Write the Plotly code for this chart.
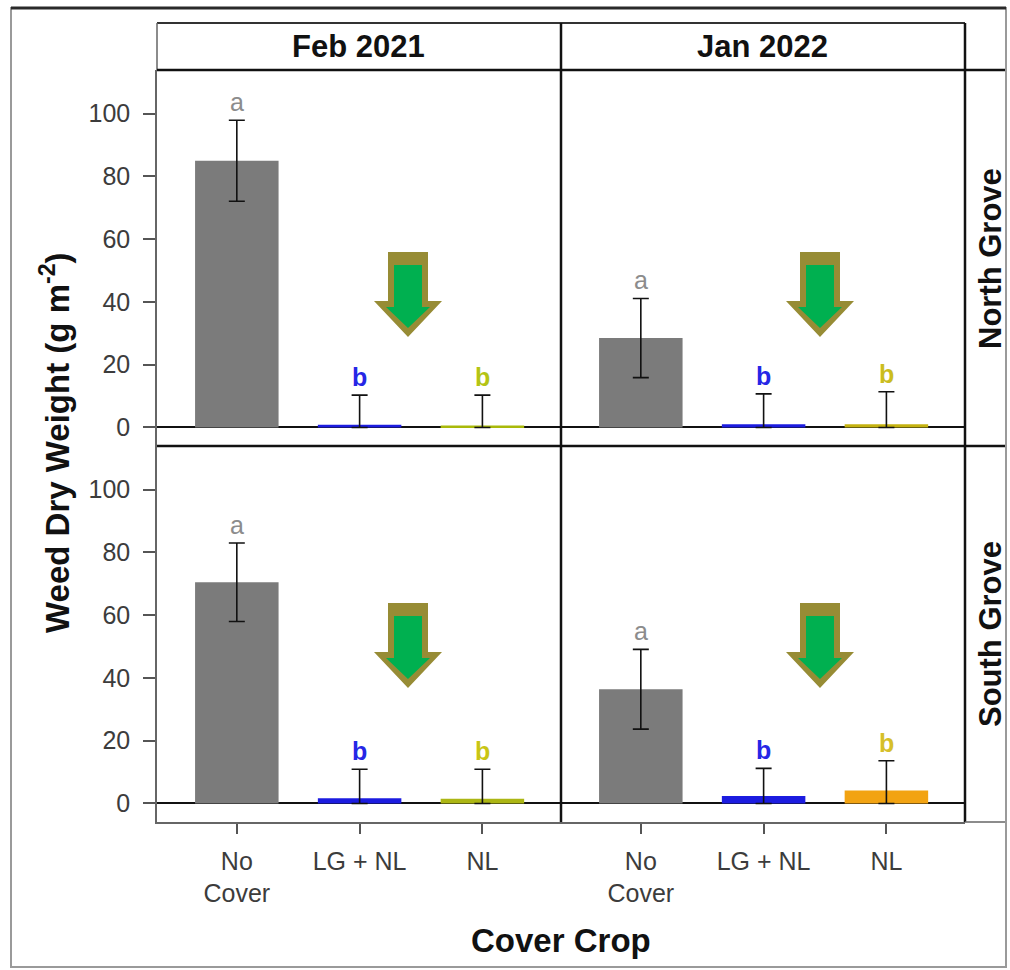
import plotly.graph_objects as go

# ---- data -----------------------------------------------------------------
categories = ["No Cover", "LG + NL", "NL"]
tick_text = ["No<br>Cover", "LG + NL", "NL"]
dates = ["Feb 2021", "Jan 2022"]
groves = ["North Grove", "South Grove"]
y_ticks = [0, 20, 40, 60, 80, 100]

north_feb_mean = [85.0, 0.9, 0.6]
north_feb_se = [12.9, 9.4, 9.7]
north_jan_mean = [28.5, 1.0, 1.0]
north_jan_se = [12.6, 9.7, 10.4]
south_feb_mean = [70.5, 1.7, 1.5]
south_feb_se = [12.5, 9.2, 9.4]
south_jan_mean = [36.4, 2.4, 4.1]
south_jan_se = [12.7, 8.8, 9.5]

north_feb_letters = ["a", "b", "b"]
north_jan_letters = ["a", "b", "b"]
south_feb_letters = ["a", "b", "b"]
south_jan_letters = ["a", "b", "b"]

# ---- styling --------------------------------------------------------------
FONT = "Liberation Sans, Arial, Helvetica, sans-serif"
GRAY_BAR = "#7b7b7b"
BLUE = "#1c1ce0"
north_feb_colors = [GRAY_BAR, BLUE, "#a9b90a"]
north_jan_colors = [GRAY_BAR, BLUE, "#c4b210"]
south_feb_colors = [GRAY_BAR, BLUE, "#acb614"]
south_jan_colors = [GRAY_BAR, BLUE, "#f2a312"]
north_feb_letter_colors = ["#8c8c8c", "#2626e6", "#b4c414"]
north_jan_letter_colors = ["#8c8c8c", "#2626e6", "#cbbd1e"]
south_feb_letter_colors = ["#8c8c8c", "#2626e6", "#c9c514"]
south_jan_letter_colors = ["#8c8c8c", "#2626e6", "#d6bf2a"]

W, H = 1010, 970
L, R, T, B = 157, 965, 70, 822          # plot area in pixels
Y_RANGE = [-5.9, 113.9]
X_RANGE = [-0.65, 2.64]


def px(xp):
    return (xp - L) / (R - L)


def py(yp):
    return (B - yp) / (B - T)


panels = [
    # (row, col, means, se, colors, letters, letter colors)
    (1, 1, north_feb_mean, north_feb_se, north_feb_colors, north_feb_letters, north_feb_letter_colors),
    (1, 2, north_jan_mean, north_jan_se, north_jan_colors, north_jan_letters, north_jan_letter_colors),
    (2, 1, south_feb_mean, south_feb_se, south_feb_colors, south_feb_letters, south_feb_letter_colors),
    (2, 2, south_jan_mean, south_jan_se, south_jan_colors, south_jan_letters, south_jan_letter_colors),
]

fig = go.Figure()
annotations = []
x_domains = {1: [0.0, 0.5], 2: [0.5, 1.0]}
y_domains = {1: [0.5, 1.0], 2: [0.0, 0.5]}

for i, (row, col, means, se, colors, letters, lcolors) in enumerate(panels, start=1):
    suffix = "" if i == 1 else str(i)
    xname, yname = "x" + suffix, "y" + suffix
    lower = [min(s, m) for s, m in zip(se, means)]
    fig.add_trace(go.Bar(
        x=list(range(len(categories))), y=means,
        width=0.68,
        marker=dict(color=colors, line=dict(width=0)),
        error_y=dict(type="data", symmetric=False, array=se, arrayminus=lower,
                     color="#111111", thickness=1.6, width=8),
        xaxis=xname, yaxis=yname, showlegend=False,
        hovertext=categories,
    ))
    for k, (m, s) in enumerate(zip(means, se)):
        annotations.append(dict(
            x=k, y=m + s, xref=xname, yref=yname,
            text=f"<b>{letters[k]}</b>" if letters[k] == "b" else letters[k],
            showarrow=False, xanchor="center", yanchor="middle", yshift=18,
            font=dict(family=FONT, size=25, color=lcolors[k]),
        ))
    bottom = row == 2
    left = col == 1
    fig.layout["xaxis" + suffix] = dict(
        domain=x_domains[col], range=X_RANGE, anchor=yname,
        tickmode="array", tickvals=list(range(len(categories))),
        ticktext=tick_text, showticklabels=bottom,
        ticks="outside" if bottom else "", ticklen=10, tickwidth=1.5, tickcolor="#555555",
        ticklabelstandoff=6,
        tickfont=dict(family=FONT, size=25, color="#3c3c3c"),
        showgrid=False, zeroline=False,
        showline=bottom, linecolor="#666666", linewidth=1.5,
        fixedrange=True,
    )
    fig.layout["yaxis" + suffix] = dict(
        domain=y_domains[row], range=Y_RANGE, anchor=xname,
        tickmode="array", tickvals=y_ticks, showticklabels=left,
        ticks="outside" if left else "", ticklen=12, tickwidth=1.5, tickcolor="#555555",
        ticklabelstandoff=8,
        tickfont=dict(family=FONT, size=25, color="#3c3c3c"),
        showgrid=False, zeroline=True, zerolinecolor="#111111", zerolinewidth=1.6,
        showline=left, linecolor="#666666", linewidth=1.5,
        fixedrange=True,
    )


def label(xp, yp, text, size, angle=0):
    return dict(x=px(xp), y=py(yp), xref="paper", yref="paper",
                xanchor="center", yanchor="middle",
                text=text, showarrow=False, textangle=angle,
                font=dict(family=FONT, size=size, color="#111111"))


# strip labels
for c, name in enumerate(dates):
    annotations.append(label(358.5 + c * 404, 47, f"<b>{name}</b>", 31))
for r, name in enumerate(groves):
    annotations.append(label(990, 258 + r * 376, f"<b>{name}</b>", 31, -90))

# axis titles
annotations.append(label(55, 443, "<b>Weed Dry Weight (g m<sup>-2</sup>)</b>", 33, -90))
annotations.append(label(561, 940, "<b>Cover Crop</b>", 33))


def line(x0, y0, x1, y1, color="#111111", width=2.5):
    return dict(type="line", xref="paper", yref="paper",
                x0=px(x0), y0=py(y0), x1=px(x1), y1=py(y1),
                line=dict(color=color, width=width), layer="above")


shapes = [
    # outer frame
    dict(type="rect", xref="paper", yref="paper",
         x0=px(11), y0=py(967), x1=px(1006), y1=py(8),
         line=dict(color="#9a9a9a", width=2), layer="below"),
    line(11, 8, 1006, 8, "#2a2a2a", 3),
    # strip boxes and panel dividers
    line(157, 23, 965, 23, "#333333", 2),
    line(157, 23, 157, 70, "#666666", 1.5),
    line(157, 70, 1005, 70),
    line(157, 446, 1005, 446),
    line(561, 23, 561, 822),
    line(965, 23, 965, 822),
    line(965, 822, 1005, 822, "#666666", 1.5),
]

# downward arrows: olive outline with green body
arrow_spots = [(408, 252), (820, 252), (408, 603), (820, 603)]


def arrow_path(cx, ty, shaft, top, neck, head, tip):
    pts = [(cx - shaft, ty + top), (cx + shaft, ty + top), (cx + shaft, ty + neck),
           (cx + head, ty + neck), (cx, ty + tip), (cx - head, ty + neck),
           (cx - shaft, ty + neck)]
    return "M " + " L ".join(f"{px(a):.5f},{py(b):.5f}" for a, b in pts) + " Z"


for cx, ty in arrow_spots:
    shapes.append(dict(type="path", xref="paper", yref="paper",
                       path=arrow_path(cx, ty, 20, 0, 49, 34, 85),
                       fillcolor="#978c35", line=dict(width=0), layer="above"))
    shapes.append(dict(type="path", xref="paper", yref="paper",
                       path=arrow_path(cx, ty, 14, 13, 55, 22, 76),
                       fillcolor="#00b050", line=dict(width=0), layer="above"))

fig.update_layout(
    width=W, height=H,
    margin=dict(l=L, r=W - R, t=T, b=H - B),
    paper_bgcolor="white", plot_bgcolor="white",
    annotations=annotations, shapes=shapes,
    bargap=0.3, showlegend=False,
    font=dict(family=FONT),
)

fig.write_html("out.html")
